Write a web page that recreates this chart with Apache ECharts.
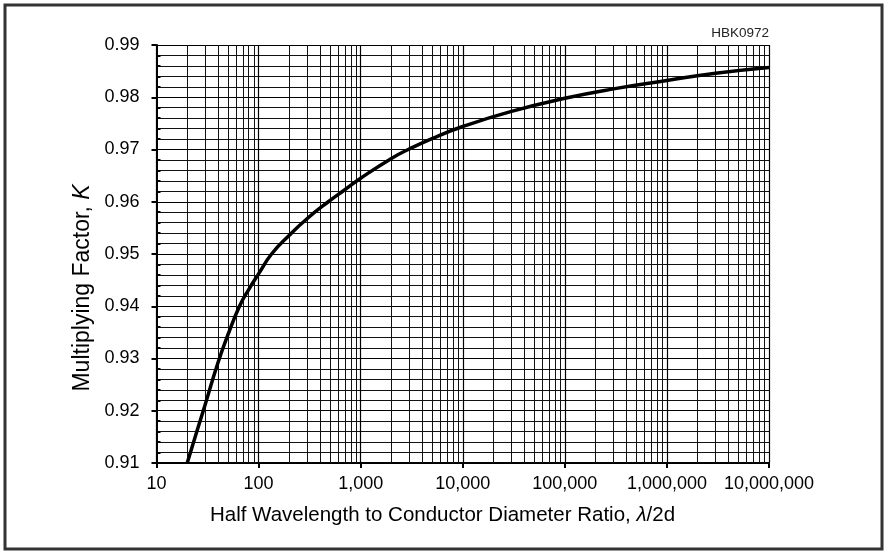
<!DOCTYPE html>
<html>
<head>
<meta charset="utf-8">
<script src="https://cdn.jsdelivr.net/npm/echarts@6/dist/echarts.min.js"></script>
<style>
html,body{margin:0;padding:0;background:#fff;}
#chart{width:888px;height:553px;}
</style>
</head>
<body>
<div id="chart"></div>
<script>
// Data
const ratio = [20, 25, 30, 40, 50, 65, 80, 100, 134, 200, 300, 482, 700, 1000, 2000, 2925, 5000, 10000, 30000, 100000, 300000, 1000000, 3000000, 10000000];
const factorK = [0.910, 0.9162, 0.9212, 0.9292, 0.9345, 0.9400, 0.9432, 0.9462, 0.9500, 0.9536, 0.9568, 0.9600, 0.9623, 0.9645, 0.9683, 0.9700, 0.9721, 0.9744, 0.9773, 0.9798, 0.9816, 0.9832, 0.9846, 0.9857];
const decades = [10, 100, 1000, 10000, 100000, 1000000];
const minorDigits = [2, 3, 4, 5, 6, 7, 8, 9];
const xTitle = 'Half Wavelength to Conductor Diameter Ratio, ';
const yTitle = 'Multiplying Factor, ';
const figId = 'HBK0972';

const minorX = [];
decades.forEach(d => minorDigits.forEach(m => minorX.push({xAxis: d * m})));

const chart = echarts.init(document.getElementById('chart'), null, {renderer: 'canvas'});
const FONT = 'Liberation Sans, Arial, sans-serif';
chart.setOption({
  animation: false,
  backgroundColor: '#fff',
  grid: {left: 156.5, right: 119, top: 45, bottom: 90, containLabel: false},
  xAxis: {
    type: 'log', logBase: 10, min: 10, max: 10000000,
    axisLine: {show: true, onZero: false, lineStyle: {color: '#000', width: 2}},
    axisTick: {show: true, length: 5, lineStyle: {color: '#000', width: 2}},
    axisLabel: {fontFamily: FONT, fontSize: 18, color: '#000', margin: 12,
      formatter: v => Math.round(v).toLocaleString('en-US')},
    splitLine: {show: true, lineStyle: {color: '#000', width: 1.2}}
  },
  yAxis: {
    type: 'value', min: 0.91, max: 0.99, interval: 0.01,
    axisLine: {show: true, lineStyle: {color: '#000', width: 2}},
    axisTick: {show: true, length: 5, lineStyle: {color: '#000', width: 2}},
    minorTick: {show: true, splitNumber: 5, length: -4, lineStyle: {color: '#000', width: 2}},
    axisLabel: {fontFamily: FONT, fontSize: 18, color: '#000', margin: 17,
      formatter: v => v.toFixed(2)},
    splitLine: {show: true, lineStyle: {color: '#000', width: 1.2}},
    minorSplitLine: {show: true, lineStyle: {color: '#111', width: 1}}
  },
  series: [{
    type: 'line',
    data: ratio.map((r, i) => [r, factorK[i]]),
    smooth: 0.5,
    showSymbol: false,
    symbol: 'none',
    lineStyle: {color: '#000', width: 3.5},
    z: 5,
    markLine: {
      silent: true, symbol: 'none', animation: false,
      label: {show: false},
      lineStyle: {color: '#111', width: 1, type: 'solid'},
      emphasis: {disabled: true},
      data: minorX
    }
  }],
  graphic: [
    {type: 'rect', shape: {x: 5, y: 5, width: 877, height: 544},
     style: {fill: 'none', stroke: '#333', lineWidth: 3}, silent: true},
    {type: 'text', x: 769, y: 33,
     style: {text: figId, fontFamily: FONT, fontSize: 13.5, fill: '#222',
       textAlign: 'right', textVerticalAlign: 'middle'}},
    {type: 'text', x: 442.5, y: 515,
     style: {text: '{a|' + xTitle + '}{b|λ}{a|/2d}', textAlign: 'center', textVerticalAlign: 'middle',
       rich: {
         a: {fontFamily: FONT, fontSize: 20.5, fill: '#000'},
         b: {fontFamily: FONT, fontSize: 20.5, fill: '#000', fontStyle: 'italic'}
       }}},
    {type: 'text', x: 83, y: 288, rotation: Math.PI / 2,
     style: {text: '{a|' + yTitle + '}{b|K}', textAlign: 'center', textVerticalAlign: 'middle',
       rich: {
         a: {fontFamily: FONT, fontSize: 23, fill: '#000'},
         b: {fontFamily: FONT, fontSize: 23, fill: '#000', fontStyle: 'italic'}
       }}}
  ]
});
</script>
</body>
</html>
